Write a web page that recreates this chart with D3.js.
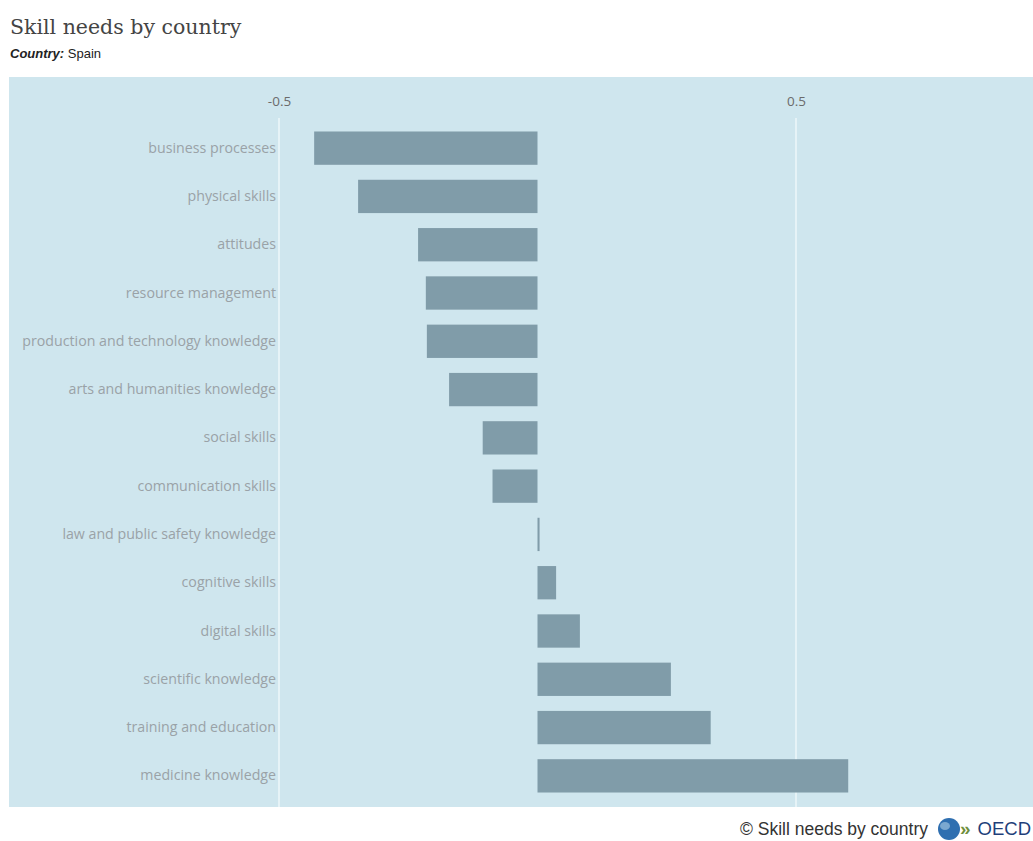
<!DOCTYPE html>
<html>
<head>
<meta charset="utf-8">
<script src="https://cdn.jsdelivr.net/npm/d3@7"></script>
<style>
  html, body { margin: 0; padding: 0; background: #fff; }
  svg { display: block; }
</style>
</head>
<body>
<svg id="chart" width="1033" height="841"></svg>
<script>
// Skill needs indicator, Spain
const categories = [
  "business processes",
  "physical skills",
  "attitudes",
  "resource management",
  "production and technology knowledge",
  "arts and humanities knowledge",
  "social skills",
  "communication skills",
  "law and public safety knowledge",
  "cognitive skills",
  "digital skills",
  "scientific knowledge",
  "training and education",
  "medicine knowledge"
];
const values = [-0.432, -0.347, -0.231, -0.216, -0.214, -0.171, -0.106, -0.087, 0.004, 0.036, 0.082, 0.258, 0.335, 0.601];
const tickValues = [-0.5, 0.5];
const tickLabels = ["-0.5", "0.5"];

const svg = d3.select("#chart");

// panel
const panel = { x0: 9, x1: 1033, y0: 77, y1: 807 };
svg.append("rect")
  .attr("x", panel.x0).attr("y", panel.y0)
  .attr("width", panel.x1 - panel.x0).attr("height", panel.y1 - panel.y0)
  .attr("fill", "#cfe6ee");

const x = d3.scaleLinear().domain([-0.5, 0.5]).range([279, 796]);
const y = d3.scaleBand().domain(categories).range([124, 800]).paddingInner(0.31).paddingOuter(0.155);

// gridlines
const gridTop = 118;
svg.append("g").selectAll("line")
  .data(tickValues)
  .join("line")
  .attr("x1", d => x(d)).attr("x2", d => x(d))
  .attr("y1", gridTop).attr("y2", panel.y1)
  .attr("stroke", "#eef7fa").attr("stroke-width", 1.5);

// top tick labels
const xAxis = d3.axisTop(x).tickValues(tickValues)
  .tickFormat((d, i) => tickLabels[i]).tickSize(0).tickPadding(0);
const gx = svg.append("g").attr("transform", "translate(0,106)").call(xAxis);
gx.select(".domain").remove();
gx.selectAll("text")
  .attr("font-family", "'Open Sans', sans-serif")
  .attr("font-size", 13.5)
  .attr("fill", "#6b6b6b");

// bars
svg.append("g").selectAll("rect")
  .data(values)
  .join("rect")
  .attr("x", d => x(Math.min(0, d)))
  .attr("width", d => Math.max(1.5, Math.abs(x(d) - x(0))))
  .attr("y", (d, i) => y(categories[i]))
  .attr("height", y.bandwidth())
  .attr("fill", "#809ca9");

// category labels
const yAxis = d3.axisLeft(y).tickSize(0).tickPadding(0);
const gy = svg.append("g").attr("transform", "translate(276,0)").call(yAxis);
gy.select(".domain").remove();
gy.selectAll("text")
  .attr("font-family", "'Open Sans', sans-serif")
  .attr("font-size", 14.2)
  .attr("fill", "#9aa2a7");

// title and subtitle
svg.append("text")
  .attr("x", 10).attr("y", 34)
  .attr("font-family", "'DejaVu Serif', serif")
  .attr("font-size", 20.5)
  .attr("fill", "#444")
  .text("Skill needs by country");

const sub = svg.append("text")
  .attr("x", 10).attr("y", 58)
  .attr("font-family", "'Liberation Sans', Arial, sans-serif")
  .attr("font-size", 13)
  .attr("fill", "#222");
sub.append("tspan").attr("font-weight", "bold").attr("font-style", "italic").text("Country:");
sub.append("tspan").text(" Spain");

// footer
svg.append("text")
  .attr("x", 928).attr("y", 835)
  .attr("text-anchor", "end")
  .attr("font-family", "'Liberation Sans', Arial, sans-serif")
  .attr("font-size", 17.5)
  .attr("fill", "#333")
  .text("\u00A9  Skill needs by country");

// logo
const logo = svg.append("g");
logo.append("circle").attr("cx", 949).attr("cy", 829).attr("r", 11).attr("fill", "#2f6fb0");
logo.append("ellipse").attr("cx", 945).attr("cy", 826).attr("rx", 5).attr("ry", 4).attr("fill", "#8fb6d8").attr("opacity", 0.8);
logo.append("text")
  .attr("x", 960).attr("y", 835)
  .attr("font-family", "'Liberation Sans', Arial, sans-serif")
  .attr("font-size", 19).attr("font-weight", "bold")
  .attr("fill", "#6f8f3c")
  .text("\u00BB");
logo.append("text")
  .attr("x", 1031).attr("y", 835)
  .attr("text-anchor", "end")
  .attr("font-family", "'Liberation Sans', Arial, sans-serif")
  .attr("font-size", 18.5)
  .attr("fill", "#1f3f7a")
  .text("OECD");
</script>
</body>
</html>
